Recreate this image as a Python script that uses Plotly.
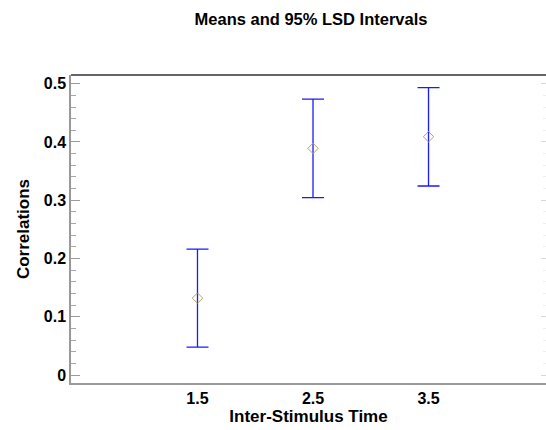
import plotly.graph_objects as go

# Data
isi_times = [1.5, 2.5, 3.5]
means = [0.132, 0.389, 0.409]
lsd_half = [0.084, 0.0845, 0.0845]
tick_vals_y = [0, 0.1, 0.2, 0.3, 0.4, 0.5]
tick_text_y = ["0", "0.1", "0.2", "0.3", "0.4", "0.5"]
tick_vals_x = [1.5, 2.5, 3.5]
tick_text_x = ["1.5", "2.5", "3.5"]

FONT = "Liberation Sans, Arial, sans-serif"

fig = go.Figure()
fig.add_trace(go.Scatter(
    x=isi_times, y=means, mode="markers",
    marker=dict(symbol="diamond-open", size=8, color="#b0a466", line=dict(width=1)),
    error_y=dict(type="data", array=lsd_half, visible=True, color="#1a1aff",
                 thickness=1.3, width=11),
    showlegend=False, hoverinfo="x+y",
))
# helper trace so the faint right-hand axis ticks get drawn
fig.add_trace(go.Scatter(x=isi_times, y=means, yaxis="y2", mode="markers",
                         marker=dict(opacity=0), showlegend=False, hoverinfo="skip"))

fig.update_layout(
    width=546, height=430,
    margin=dict(l=71, r=0, t=75, b=47),
    paper_bgcolor="white", plot_bgcolor="white",
    font=dict(family=FONT, color="black"),
    title=dict(text="<b>Means and 95% LSD Intervals</b>", font=dict(size=16.5, family=FONT),
               xref="container", x=311/546, xanchor="center",
               yref="container", y=1-19/430, yanchor="middle"),
    xaxis=dict(range=[0.405, 4.517], tickvals=tick_vals_x, ticktext=tick_text_x,
               showgrid=False, zeroline=False, showline=True, linecolor="#999999",
               linewidth=1.5, ticks="", tickfont=dict(size=16, family=FONT, weight="bold"),
               title=dict(text="<b>Inter-Stimulus Time</b>", font=dict(size=17, family=FONT),
                          standoff=2)),
    yaxis=dict(range=[-0.0137, 0.515], tickvals=tick_vals_y, ticktext=tick_text_y,
               showgrid=False, zeroline=False, showline=True, linecolor="#999999",
               linewidth=1.5, ticks="inside", ticklen=9, tickcolor="#999999",
               minor=dict(dtick=0.02, ticks="inside", ticklen=5, tickcolor="#aaaaaa"),
               tickfont=dict(size=16, family=FONT, weight="bold"),
               title=dict(text="<b>Correlations</b>", font=dict(size=17, family=FONT),
                          standoff=10)),
    yaxis2=dict(range=[-0.0137, 0.515], overlaying="y", side="right", showgrid=False,
                zeroline=False, showline=False, showticklabels=False,
                tickvals=tick_vals_y, ticks="inside", ticklen=5, tickcolor="#d8d8d8",
                minor=dict(dtick=0.02, ticks="inside", ticklen=3, tickcolor="#eeeeee")),
)

# dark top border
fig.add_shape(type="line", xref="paper", yref="paper", x0=0, x1=1, y0=1, y1=1,
              line=dict(color="#333333", width=1.5))

fig.write_html("out.html", config={"displayModeBar": False},
               post_script="document.body.style.margin='0';document.body.style.overflow='hidden';")
